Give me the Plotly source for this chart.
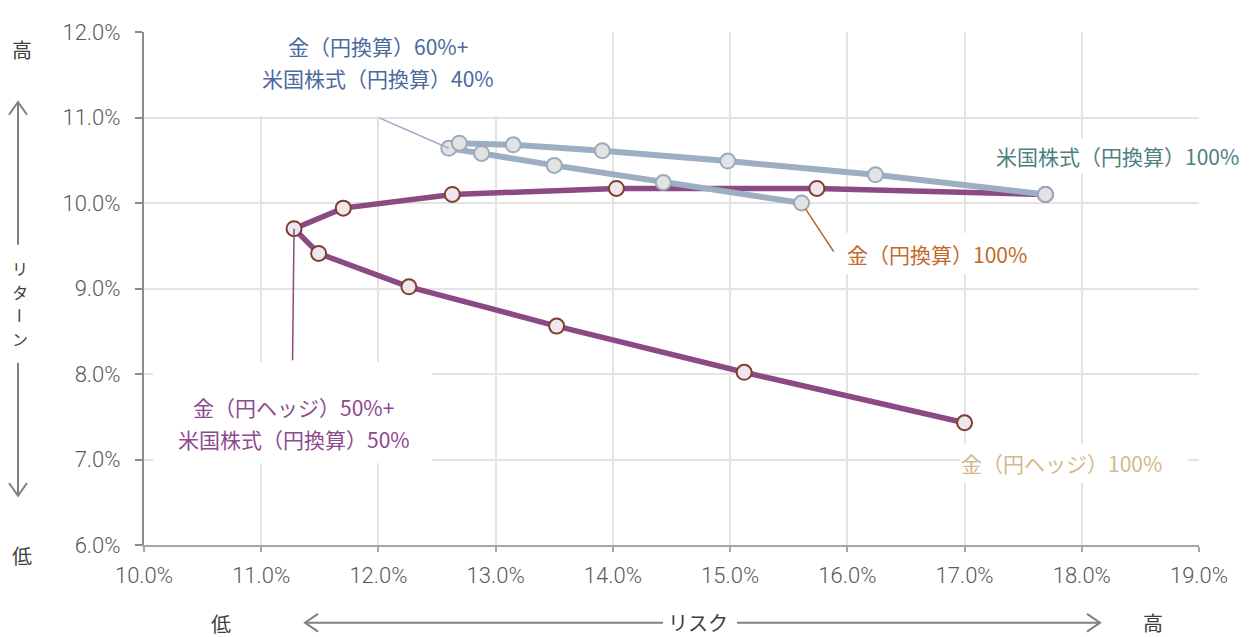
import plotly.graph_objects as go

# ---------------- data (risk %, return %) ----------------
# Gold (yen-hedged) + US stocks (yen) portfolios, gold weight 100% -> 0%
hedge_risk = [17.00, 15.12, 13.52, 12.26, 11.49, 11.28, 11.70, 12.63, 14.03, 15.74, 17.69]
hedge_ret = [7.43, 8.02, 8.56, 9.02, 9.41, 9.70, 9.94, 10.10, 10.17, 10.17, 10.10]
# Gold (yen) + US stocks (yen) portfolios, gold weight 100% -> 0%
yen_risk = [15.61, 14.43, 13.50, 12.88, 12.60, 12.69, 13.15, 13.91, 14.98, 16.24, 17.69]
yen_ret = [10.00, 10.24, 10.44, 10.58, 10.64, 10.70, 10.68, 10.61, 10.49, 10.33, 10.10]
gold_weight = [100, 90, 80, 70, 60, 50, 40, 30, 20, 10, 0]

x_ticks = [10, 11, 12, 13, 14, 15, 16, 17, 18, 19]
y_ticks = [6, 7, 8, 9, 10, 11, 12]

label_yen_mix = ["金（円換算）60%+", "米国株式（円換算）40%"]
label_hedge_mix = ["金（円ヘッジ）50%+", "米国株式（円換算）50%"]
label_us = "米国株式（円換算）100%"
label_gold_yen = "金（円換算）100%"
label_gold_hedge = "金（円ヘッジ）100%"
y_title = "リターン"
x_title = "リスク"

# ---------------- layout geometry (page pixels) ----------------
OFF = 8                      # default page margin around the figure
PAGE_W, PAGE_H = 1255, 637
AX_L, AX_R, AX_T, AX_B = 144, 1199, 24, 545   # plot area in page pixels
W, H = PAGE_W - OFF, PAGE_H - OFF
PW = AX_R - AX_L
PH = AX_B - AX_T


def px(x):
    return (x - AX_L) / PW


def py(y):
    return (AX_B - y) / PH


JP = "Noto Sans CJK JP"
GRAY_LINE = "#9dadc2"
PURPLE = "#8c4a84"

fig = go.Figure()

fig.add_trace(go.Scatter(
    x=hedge_risk, y=hedge_ret, mode="lines+markers",
    line=dict(color=PURPLE, width=5.5),
    marker=dict(size=15, color="#efe6ee", line=dict(color="#7d3f2f", width=2)),
    customdata=gold_weight, hoverinfo="skip", showlegend=False,
))
fig.add_trace(go.Scatter(
    x=yen_risk, y=yen_ret, mode="lines+markers",
    line=dict(color=GRAY_LINE, width=6),
    marker=dict(size=15, color="#e3e3e3", line=dict(color="#9aabbf", width=2)),
    customdata=gold_weight, hoverinfo="skip", showlegend=False,
))

shapes = []


def white_box(x0, y0, x1, y1):
    shapes.append(dict(type="rect", xref="paper", yref="paper",
                       x0=px(x0), x1=px(x1), y0=py(y1), y1=py(y0),
                       fillcolor="white", line=dict(width=0), layer="above"))


white_box(218, 0, 535, 109)
white_box(985, 132, 1250, 168)
white_box(836, 228, 1040, 270)
white_box(153, 359, 432, 462)
white_box(960, 442, 1188, 482)


def path(points):
    return "M " + " L ".join(f"{px(a):.5f},{py(b):.5f}" for a, b in points)


ARROW = "#808080"
arrow_paths = [
    [(18, 240), (18, 95)], [(9, 108), (18, 95), (27, 108)],
    [(18, 360), (18, 495)], [(9, 482), (18, 495), (27, 482)],
    [(305, 624), (663, 624)], [(318, 615), (305, 624), (318, 633)],
    [(737, 624), (1100, 624)], [(1087, 615), (1100, 624), (1087, 633)],
]
for pts in arrow_paths:
    shapes.append(dict(type="path", xref="paper", yref="paper", path=path(pts),
                       line=dict(color=ARROW, width=2), layer="above"))

annotations = []


def text_at(x, y, text, color, size=21, **kw):
    annotations.append(dict(xref="paper", yref="paper", x=px(x), y=py(y), text=text,
                            showarrow=False, xanchor="center", yanchor="middle",
                            font=dict(family=JP, size=size, color=color), **kw))


BLUE = "#4a6a9c"
text_at(378, 38, label_yen_mix[0], BLUE)
text_at(378, 71, label_yen_mix[1], BLUE)
text_at(1117, 150, label_us, "#4e8080")
text_at(937, 249, label_gold_yen, "#c4692a")
PTXT = "#8e4a8e"
text_at(293, 405, label_hedge_mix[0], PTXT)
text_at(294, 437, label_hedge_mix[1], PTXT)
text_at(1061, 462, label_gold_hedge, "#d3b98b")

AXC = "#404040"
text_at(22, 42, "高", AXC, size=20)
text_at(22, 556, "低", AXC, size=20)
# vertical axis title, one character per row (long-vowel mark turned upright)
for i, ch in enumerate(y_title):
    text_at(20, 264 + i * 24, ch, AXC, size=16, textangle=90 if ch == "ー" else 0)
text_at(221, 625, "低", AXC, size=20)
text_at(698, 624, x_title, AXC, size=20)
text_at(1153, 624, "高", AXC, size=20)


def leader(x, y, ax, ay, color, standoff=0):
    annotations.append(dict(x=x, y=y, xref="x", yref="y", ax=ax, ay=ay, text="",
                            showarrow=True, arrowhead=0, arrowwidth=1.5,
                            arrowcolor=color, standoff=standoff))


leader(yen_risk[4], yen_ret[4], -71, -31, "#9aabc2")
leader(yen_risk[0], yen_ret[0], 33, 50, "#c0661f", standoff=7)
leader(hedge_risk[5], hedge_ret[5], -1.5, 133, PURPLE)

tickfont = dict(family="Roboto", size=22, color="#595959", weight=300)

fig.update_layout(
    width=W, height=H,
    margin=dict(l=AX_L - OFF, r=PAGE_W - AX_R, t=AX_T - OFF, b=PAGE_H - AX_B),
    paper_bgcolor="white", plot_bgcolor="white",
    shapes=shapes, annotations=annotations,
    xaxis=dict(range=[10, 19], tickvals=x_ticks, ticktext=[f"{v:.1f}%" for v in x_ticks],
               showgrid=True, gridcolor="#e3e3e3", gridwidth=1.5,
               showline=True, linecolor="#a6a6a6", linewidth=2,
               ticks="outside", ticklen=5, tickcolor="#a6a6a6", tickwidth=1.5,
               tickfont=tickfont, zeroline=False, ticklabelstandoff=5),
    yaxis=dict(range=[6, 12], tickvals=y_ticks, ticktext=[f"{v:.1f}%" for v in y_ticks],
               showgrid=True, gridcolor="#e3e3e3", gridwidth=1.5,
               showline=True, linecolor="#8c8c8c", linewidth=2,
               ticks="outside", ticklen=7, tickcolor="#8c8c8c", tickwidth=1.5,
               tickfont=tickfont, zeroline=False, ticklabelstandoff=10),
)

fig.write_html("out.html")
